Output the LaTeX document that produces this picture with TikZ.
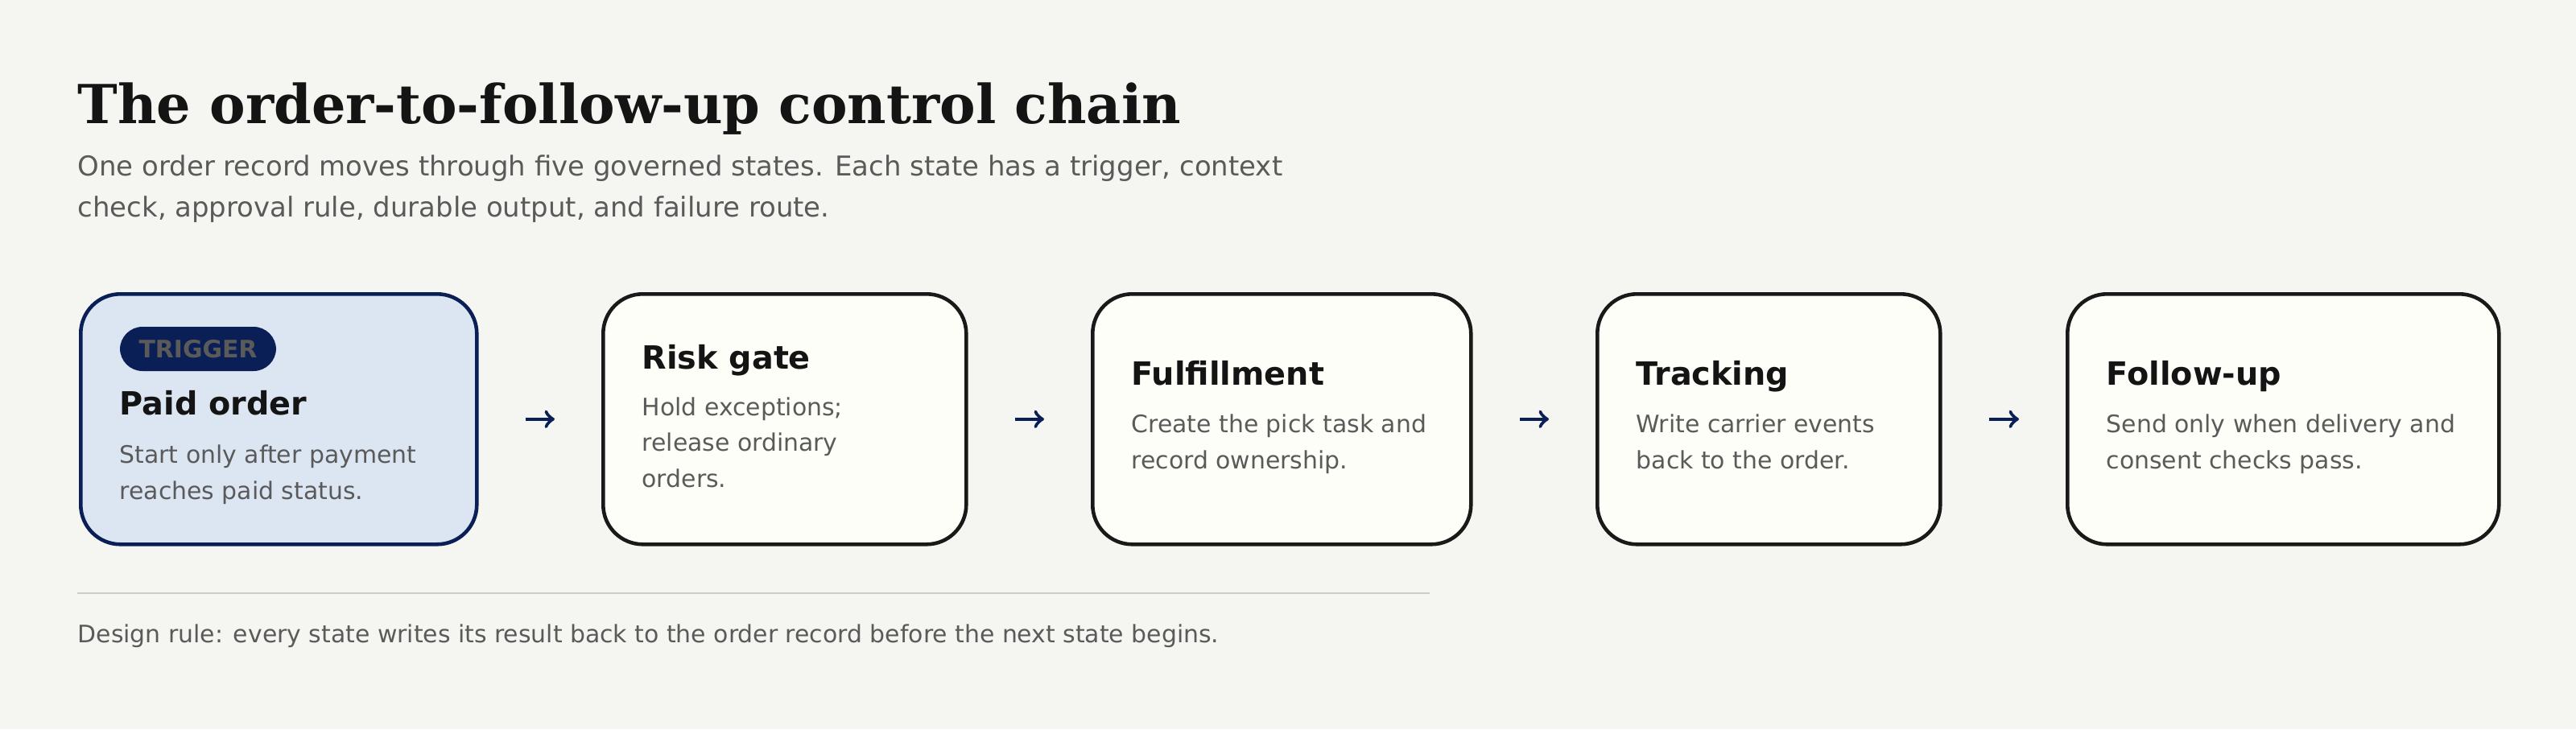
\documentclass[tikz,border=0pt]{standalone}
\usepackage{fontspec}
\setmainfont{DejaVu Sans}
\newfontfamily\titlefont{DejaVu Serif}
\definecolor{bgpaper}{HTML}{F5F6F1}
\definecolor{navy}{HTML}{0A1F55}
\definecolor{cardfill}{HTML}{FEFEF8}
\definecolor{trigfill}{HTML}{DCE6F3}
\definecolor{greytext}{HTML}{5A5A5A}
\definecolor{rulegrey}{HTML}{CCCCCC}
\begin{document}
\begin{tikzpicture}[
card/.style={rectangle,rounded corners=14pt,draw=black!90,line width=1.3pt,fill=cardfill,anchor=north west},
trigcard/.style={card,draw=navy,fill=trigfill},
badge/.style={rectangle,rounded corners=8pt,fill=navy,text=greytext,font=\bfseries\fontsize{8.5}{10}\selectfont,minimum width=1.94cm,minimum height=0.55cm},
head/.style={anchor=base west,inner sep=0pt,font=\bfseries\fontsize{11.3}{14}\selectfont,text=black!92},
desc/.style={anchor=base west,inner sep=0pt,align=left,font=\fontsize{8.5}{12.6}\selectfont,text=greytext},
flow/.style={->,navy,line width=1.3pt,shorten >=0.58cm,shorten <=0.58cm}]

\fill[bgpaper] (0,0) rectangle (32,-9.06);
\useasboundingbox (0,0) rectangle (32,-9.06);

% Heading
\node[anchor=base west,inner sep=0pt,font=\titlefont\bfseries\fontsize{19}{24}\selectfont,text=black!92] (title) at (0.96,-1.53) {The order-to-follow-up control chain};
\node[anchor=base west,inner sep=0pt,align=left,font=\fontsize{9.65}{14.5}\selectfont,text=greytext] (subtitle) at (0.96,-2.69)
  {One order record moves through five governed states. Each state has a trigger, context\\check, approval rule, durable output, and failure route.};

% Cards
\node[trigcard,minimum width=4.92cm,minimum height=3.11cm] (paid) at (0.98,-3.63) {};
\node[card,minimum width=4.51cm,minimum height=3.11cm] (risk) at (7.47,-3.63) {};
\node[card,minimum width=4.70cm,minimum height=3.11cm] (fulfil) at (13.55,-3.63) {};
\node[card,minimum width=4.26cm,minimum height=3.11cm] (track) at (19.82,-3.63) {};
\node[card,minimum width=5.36cm,minimum height=3.11cm] (follow) at (25.66,-3.63) {};

% Card texts
\node[badge] (trigger) at (2.46,-4.335) {TRIGGER};
\node[head] (paidhead) at (1.48,-5.15) {Paid order};
\node[desc] (paiddesc) at (1.48,-6.20) {Start only after payment\\reaches paid status.};
\node[head] (riskhead) at (7.97,-4.58) {Risk gate};
\node[desc] (riskdesc) at (7.97,-6.05) {Hold exceptions;\\release ordinary\\orders.};
\node[head] (fulfilhead) at (14.05,-4.78) {Fulfillment};
\node[desc] (fulfildesc) at (14.05,-5.82) {Create the pick task and\\record ownership.};
\node[head] (trackhead) at (20.32,-4.78) {Tracking};
\node[desc] (trackdesc) at (20.32,-5.82) {Write carrier events\\back to the order.};
\node[head] (followhead) at (26.16,-4.78) {Follow-up};
\node[desc] (followdesc) at (26.16,-5.82) {Send only when delivery and\\consent checks pass.};

% Arrows
\draw[flow] (paid.east) -- (risk.west);
\draw[flow] (risk.east) -- (fulfil.west);
\draw[flow] (fulfil.east) -- (track.west);
\draw[flow] (track.east) -- (follow.west);

% Footer
\draw[rulegrey,line width=0.8pt] (0.96,-7.37) -- (17.76,-7.37);
\node[anchor=base west,inner sep=0pt,font=\fontsize{8.5}{11}\selectfont,text=greytext] (rule) at (0.96,-7.98)
  {Design rule: every state writes its result back to the order record before the next state begins.};

\end{tikzpicture}
\end{document}
